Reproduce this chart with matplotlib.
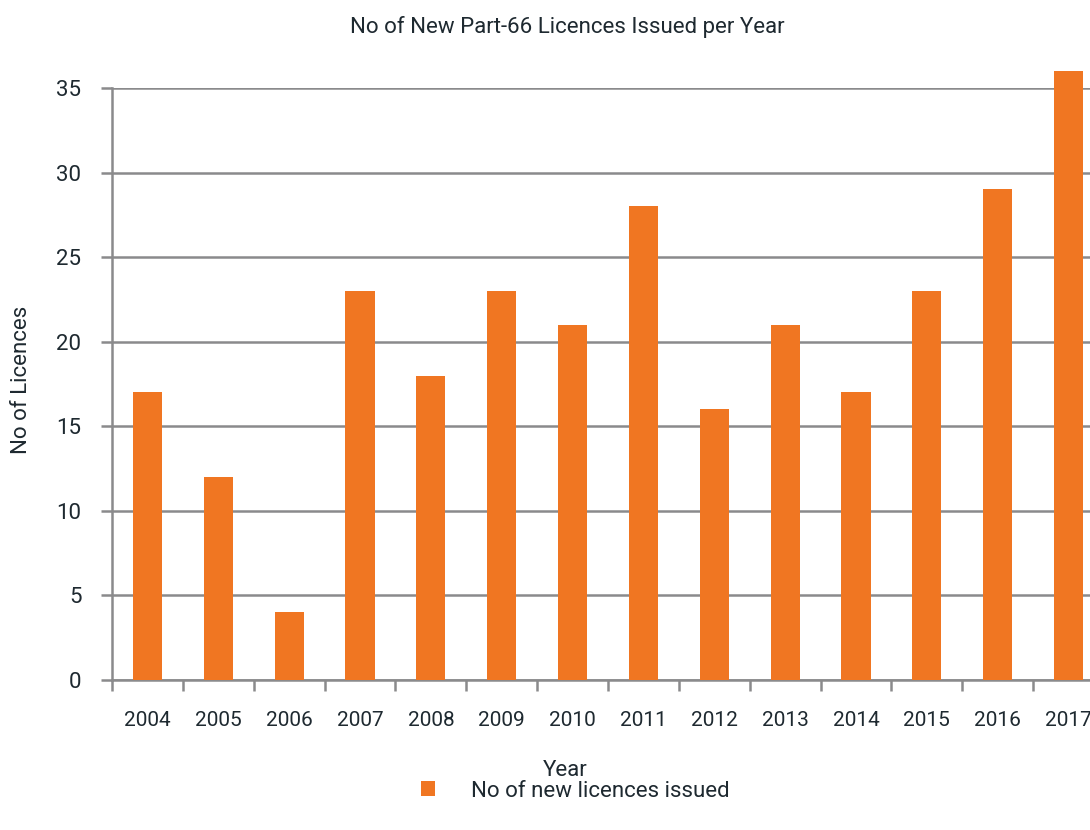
import numpy as np
import matplotlib.pyplot as plt

# data
years = ['2004', '2005', '2006', '2007', '2008', '2009', '2010',
         '2011', '2012', '2013', '2014', '2015', '2016', '2017']
licences = [17, 12, 4, 23, 18, 23, 21, 28, 16, 21, 17, 23, 29, 36]

plt.rcParams['font.family'] = ['Roboto', 'DejaVu Sans']

orange = '#F07622'
grey = '#8a8a8c'
txt = '#1e2930'
fs = 16

fig = plt.figure(figsize=(10.9, 8.3), dpi=100)
ax = fig.add_axes([112/1090, 1 - 680/830, 992/1090, 592/830])

x = np.arange(len(years))
bars = ax.bar(x, licences, width=0.41, color=orange, zorder=3, label='No of new licences issued')
for b in bars:
    b.set_clip_on(False)

ax.set_xlim(-0.5, len(years) - 0.5)
ax.set_ylim(0, 35)
ax.set_yticks(np.arange(0, 36, 5))
ax.yaxis.grid(True, color=grey, linewidth=1.8, zorder=0)
for s in ['top', 'right']:
    ax.spines[s].set_visible(False)
for s in ['left', 'bottom']:
    ax.spines[s].set_color(grey)
    ax.spines[s].set_linewidth(1.8)

ax.set_xticks(x)
ax.set_xticklabels(years)
ax.tick_params(axis='x', length=0, pad=22, labelsize=15, labelcolor=txt)
ax.set_xticks(np.arange(-0.5, len(years), 1), minor=True)
ax.tick_params(axis='x', which='minor', length=8, width=1.8, color=grey, direction='out')
ax.tick_params(axis='y', length=8, width=1.8, color=grey, labelsize=fs, labelcolor=txt, pad=14)

ax.set_xlabel('Year', fontsize=fs, color=txt)
ax.xaxis.set_label_coords((565 - 112) / 992, -(770 - 680) / 592)
ax.set_ylabel('No of Licences', fontsize=fs, color=txt)
ax.yaxis.set_label_coords(-(112 - 22) / 992, (680 - 380) / 592)
ax.yaxis.label.set_va('center')
ax.xaxis.label.set_va('center')
ax.set_title('No of New Part-66 Licences Issued per Year', fontsize=fs, color=txt,
             x=(567 - 112) / 992, y=(680 - 35) / 592, va='center')

fig.legend(handles=[bars], loc='center', bbox_to_anchor=(575/1090, 1 - 791/830),
           frameon=False, fontsize=fs, handlelength=0.65, handleheight=0.65,
           handletextpad=1.6, labelcolor=txt)

fig.savefig('out.png')
